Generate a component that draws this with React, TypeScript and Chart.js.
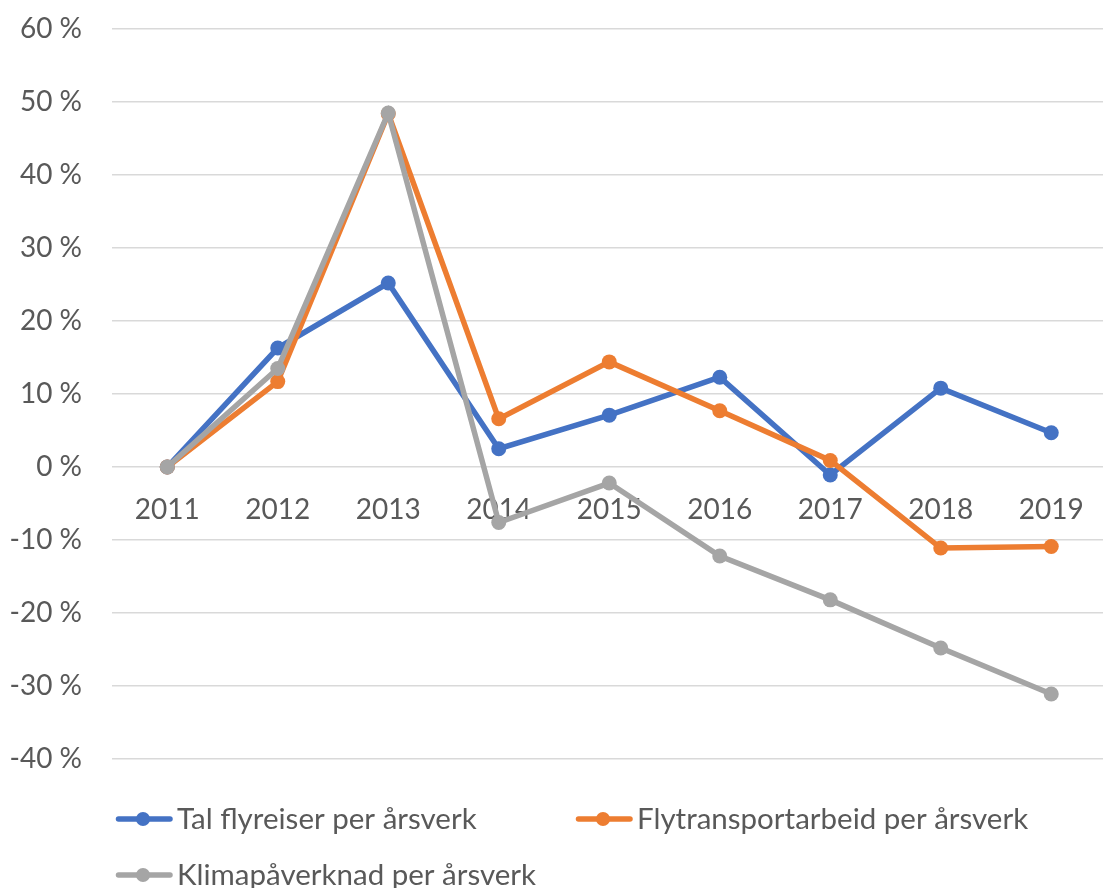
import React, { useEffect, useRef } from 'react';
import { Chart, registerables } from 'chart.js';

Chart.register(...registerables);

// ---- data ----
const categories = ['2011', '2012', '2013', '2014', '2015', '2016', '2017', '2018', '2019'];
const talFlyreiser = [0, 16.3, 25.2, 2.5, 7.1, 12.3, -1.1, 10.8, 4.7];
const flytransportarbeid = [0, 11.7, 48.4, 6.6, 14.4, 7.7, 0.9, -11.1, -10.9];
const klimapaverknad = [0, 13.5, 48.5, -7.6, -2.2, -12.2, -18.2, -24.8, -31.1];
const seriesNames = ['Tal flyreiser per årsverk', 'Flytransportarbeid per årsverk', 'Klimapåverknad per årsverk'];
const seriesColors = ['#4472C4', '#ED7D31', '#A5A5A5'];
const yMin = -40;
const yMax = 60;
const yStep = 10;

const FONT = 'Lato';
const FONT_SIZE = 28;
const LEGEND_FONT_SIZE = 29.5;
const TEXT_COLOR = '#595959';

const excelLegend = {
  id: 'excelLegend',
  afterDraw(chart: any) {
    const ctx = chart.ctx;
    const area = chart.chartArea;
    ctx.save();
    ctx.font = `${LEGEND_FONT_SIZE}px ${FONT}`;
    ctx.textBaseline = 'middle';
    ctx.textAlign = 'left';
    chart.data.datasets.forEach((ds: any, i: number) => {
      const col = i % 2;
      const row = Math.floor(i / 2);
      const x = area.left + 4 + col * 460;
      const y = area.bottom + 60 + row * 56;
      ctx.strokeStyle = ds.borderColor;
      ctx.lineWidth = 5.5;
      ctx.lineCap = 'round';
      ctx.beginPath();
      ctx.moveTo(x + 2.5, y);
      ctx.lineTo(x + 54, y);
      ctx.stroke();
      ctx.fillStyle = ds.borderColor;
      ctx.beginPath();
      ctx.arc(x + 27, y, 7, 0, Math.PI * 2);
      ctx.fill();
      ctx.fillStyle = TEXT_COLOR;
      ctx.fillText(ds.label, x + 61, y);
    });
    ctx.restore();
  },
};

export default function App() {
  const canvasRef = useRef<HTMLCanvasElement | null>(null);

  useEffect(() => {
    document.body.style.margin = '0';
    document.body.style.overflow = 'hidden';
    const canvas = canvasRef.current;
    if (!canvas) return;
    const seriesData = [talFlyreiser, flytransportarbeid, klimapaverknad];
    const orders = [3, 2, 1];
    const chart = new Chart(canvas, {
      type: 'line',
      data: {
        labels: categories,
        datasets: seriesData.map((d, i) => ({
          label: seriesNames[i],
          data: d,
          borderColor: seriesColors[i],
          backgroundColor: seriesColors[i],
          pointBackgroundColor: seriesColors[i],
          pointBorderColor: seriesColors[i],
          pointBorderWidth: 0,
          pointRadius: 7.5,
          borderWidth: 5.5,
          tension: 0,
          fill: false,
          order: orders[i],
          clip: false as any,
        })),
      },
      options: {
        animation: false,
        responsive: false,
        maintainAspectRatio: false,
        layout: { padding: { top: 29, bottom: 129, left: 0, right: 0 } },
        plugins: {
          legend: { display: false },
          tooltip: { enabled: false },
        },
        scales: {
          x: {
            type: 'category',
            position: { y: 0 } as any,
            offset: true,
            grid: { display: false, drawTicks: false },
            border: { display: false },
            ticks: {
              color: TEXT_COLOR,
              font: { family: FONT, size: FONT_SIZE },
              padding: 26,
              maxRotation: 0,
              autoSkip: false,
            },
          },
          y: {
            type: 'linear',
            min: yMin,
            max: yMax,
            grid: { color: '#D9D9D9', lineWidth: 1.5, drawTicks: false },
            border: { display: false },
            afterFit: (scale: any) => {
              scale.width = 112;
              scale.paddingTop = 0;
              scale.paddingBottom = 0;
            },
            ticks: {
              stepSize: yStep,
              color: TEXT_COLOR,
              font: { family: FONT, size: FONT_SIZE },
              padding: 30,
              callback: (v: any) => `${v} %`,
            },
          },
        },
      },
      plugins: [excelLegend],
    });
    return () => chart.destroy();
  }, []);

  return (
    <div style={{ position: 'absolute', left: 0, top: 0, width: 1103, height: 888, overflow: 'hidden', background: '#fff' }}>
      <canvas ref={canvasRef} width={1114} height={888} style={{ width: 1114, height: 888, display: 'block' }} />
    </div>
  );
}
